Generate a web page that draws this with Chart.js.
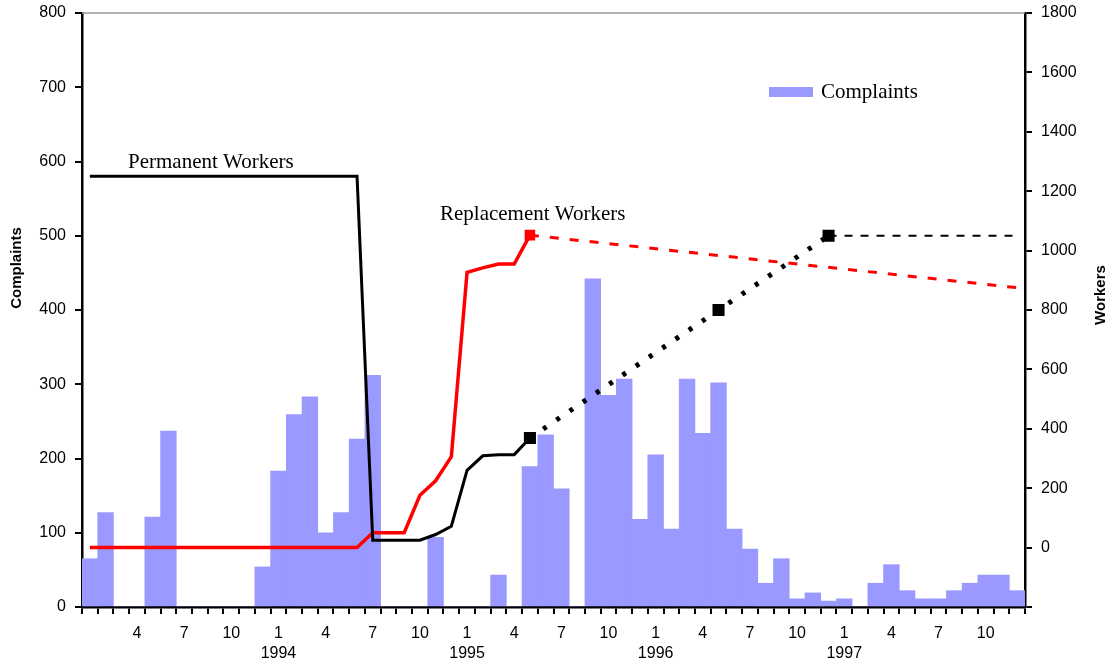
<!DOCTYPE html>
<html>
<head>
<meta charset="utf-8">
<script src="https://cdn.jsdelivr.net/npm/chart.js@4/dist/chart.umd.min.js"></script>
<style>
  html, body { margin: 0; padding: 0; background: #fff; }
  #wrap { width: 1111px; height: 666px; }
</style>
</head>
<body>
<div id="wrap"><canvas id="chart"></canvas></div>
<script>
// months Jan 1993 .. Dec 1997, only some get a label
const monthLabels = [
    '', '', '', '4', '', '', '7', '', '', '10', '', '',
    ['1', '1994'], '', '', '4', '', '', '7', '', '', '10', '', '',
    ['1', '1995'], '', '', '4', '', '', '7', '', '', '10', '', '',
    ['1', '1996'], '', '', '4', '', '', '7', '', '', '10', '', '',
    ['1', '1997'], '', '', '4', '', '', '7', '', '', '10', '', ''
];

const complaints = [
    65, 127, 0, 0, 121, 237, 0, 0, 0, 0, 0, 54,
    183, 259, 283, 100, 127, 226, 312, 0, 0, 0, 94, 0,
    0, 0, 43, 0, 189, 232, 159, 0, 442, 285, 307, 118,
    205, 105, 307, 234, 302, 105, 78, 32, 65, 11, 19, 8,
    11, 0, 32, 57, 22, 11, 11, 22, 32, 43, 43, 22
];

const N = null;
const permanentWorkers = [
    1250, 1250, 1250, 1250, 1250, 1250, 1250, 1250, 1250, 1250, 1250, 1250,
    1250, 1250, 1250, 1250, 1250, 1250, 25, 25, 25, 25, 44, 72,
    260, 309, 313, 313, 369, N, N, N, N, N, N, N,
    N, N, N, N, N, N, N, N, N, N, N, N,
    N, N, N, N, N, N, N, N, N, N, N, N
];
const permanentProjected = [
    N, N, N, N, N, N, N, N, N, N, N, N,
    N, N, N, N, N, N, N, N, N, N, N, N,
    N, N, N, N, 369, N, N, N, N, N, N, N,
    N, N, N, N, 800, N, N, N, N, N, N, 1050,
    N, N, N, N, N, N, N, N, N, N, N, N
];
const permanentFlat = [
    N, N, N, N, N, N, N, N, N, N, N, N,
    N, N, N, N, N, N, N, N, N, N, N, N,
    N, N, N, N, N, N, N, N, N, N, N, N,
    N, N, N, N, N, N, N, N, N, N, N, 1050,
    N, N, N, N, N, N, N, N, N, N, N, 1050
];
const replacementWorkers = [
    0, 0, 0, 0, 0, 0, 0, 0, 0, 0, 0, 0,
    0, 0, 0, 0, 0, 0, 50, 50, 50, 176, 225, 306,
    927, 942, 955, 955, 1052, N, N, N, N, N, N, N,
    N, N, N, N, N, N, N, N, N, N, N, N,
    N, N, N, N, N, N, N, N, N, N, N, N
];
const replacementProjected = [
    N, N, N, N, N, N, N, N, N, N, N, N,
    N, N, N, N, N, N, N, N, N, N, N, N,
    N, N, N, N, 1052, N, N, N, N, N, N, N,
    N, N, N, N, N, N, N, N, N, N, N, N,
    N, N, N, N, N, N, N, N, N, N, N, 875
];

const leftTicks = { min: 0, max: 800, step: 100 };
const rightTicks = { min: -200, max: 1800, step: 200 };

// square marker only where a value is a marked point
const markAt = (arr, idx) => arr.map((v, i) => idx.includes(i) ? 5 : 0);

const tickFont = { family: 'Liberation Sans, Arial, sans-serif', size: 16 };

const overlay = {
    id: 'overlay',
    afterDraw(chart) {
        const ctx = chart.ctx;
        const a = chart.chartArea;
        ctx.save();

        // light frame line along the top
        ctx.strokeStyle = '#999';
        ctx.lineWidth = 1.5;
        ctx.beginPath();
        ctx.moveTo(a.left, a.top);
        ctx.lineTo(a.right, a.top);
        ctx.stroke();

        // axis titles, both reading bottom to top
        ctx.fillStyle = '#000';
        ctx.font = 'bold 15px Liberation Sans, Arial, sans-serif';
        ctx.textAlign = 'center';
        ctx.textBaseline = 'middle';
        ctx.save();
        ctx.translate(17, 268);
        ctx.rotate(-Math.PI / 2);
        ctx.fillText('Complaints', 0, 0);
        ctx.restore();
        ctx.save();
        ctx.translate(1101, 295);
        ctx.rotate(-Math.PI / 2);
        ctx.fillText('Workers', 0, 0);
        ctx.restore();

        // series notes
        ctx.font = '21px Liberation Serif, Times New Roman, serif';
        ctx.textAlign = 'left';
        ctx.fillText('Permanent Workers', 128, 162);
        ctx.fillText('Replacement Workers', 440, 214);

        // legend
        ctx.fillStyle = '#9999FF';
        ctx.fillRect(769, 87, 44, 10);
        ctx.fillStyle = '#000';
        ctx.fillText('Complaints', 821, 92);

        ctx.restore();
    }
};

new Chart(document.getElementById('chart'), {
    data: {
        labels: monthLabels,
        datasets: [
            {
                type: 'bar',
                label: 'Complaints',
                data: complaints,
                yAxisID: 'y',
                backgroundColor: '#9999FF',
                borderWidth: 0,
                barPercentage: 1,
                categoryPercentage: 1,
                order: 10
            },
            {
                type: 'line',
                label: 'Replacement Workers',
                data: replacementWorkers,
                yAxisID: 'y2',
                borderColor: '#FF0000',
                backgroundColor: '#FF0000',
                borderWidth: 3.5,
                tension: 0,
                pointStyle: 'rect',
                pointRadius: markAt(replacementWorkers, [28]),
                order: 1
            },
            {
                type: 'line',
                label: 'Replacement projected',
                data: replacementProjected,
                yAxisID: 'y2',
                borderColor: '#FF0000',
                borderWidth: 3,
                borderDash: [9, 11],
                spanGaps: true,
                pointRadius: 0,
                order: 1
            },
            {
                type: 'line',
                label: 'Permanent Workers',
                data: permanentWorkers,
                yAxisID: 'y2',
                borderColor: '#000',
                backgroundColor: '#000',
                borderWidth: 3,
                tension: 0,
                pointStyle: 'rect',
                pointRadius: markAt(permanentWorkers, [28]),
                order: 0
            },
            {
                type: 'line',
                label: 'Permanent projected',
                data: permanentProjected,
                yAxisID: 'y2',
                borderColor: '#000',
                backgroundColor: '#000',
                borderWidth: 5,
                borderDash: [4, 12],
                spanGaps: true,
                pointStyle: 'rect',
                pointRadius: markAt(permanentProjected, [28, 40, 47]),
                order: 0
            },
            {
                type: 'line',
                label: 'Permanent flat',
                data: permanentFlat,
                yAxisID: 'y2',
                borderColor: '#000',
                borderWidth: 2,
                borderDash: [8, 8],
                spanGaps: true,
                pointRadius: 0,
                order: 0
            }
        ]
    },
    options: {
        responsive: true,
        maintainAspectRatio: false,
        animation: false,
        layout: { padding: { top: 13, left: 0, right: 0, bottom: 0 } },
        plugins: {
            legend: { display: false },
            tooltip: { enabled: false }
        },
        scales: {
            x: {
                offset: true,
                grid: {
                    offset: true,
                    drawOnChartArea: false,
                    tickLength: 7,
                    color: '#000',
                    lineWidth: 2
                },
                border: { color: '#000', width: 2.5 },
                ticks: {
                    autoSkip: false,
                    maxRotation: 0,
                    color: '#000',
                    font: { ...tickFont, lineHeight: 1.25 },
                    padding: 10
                },
                afterFit: (scale) => { scale.height = 59; }
            },
            y: {
                position: 'left',
                min: leftTicks.min,
                max: leftTicks.max,
                grid: {
                    drawOnChartArea: false,
                    tickLength: 7,
                    color: '#000',
                    lineWidth: 2
                },
                border: { color: '#000', width: 2.5 },
                ticks: {
                    stepSize: leftTicks.step,
                    color: '#000',
                    font: tickFont,
                    padding: 9
                },
                afterFit: (scale) => {
                    scale.width = 82;
                    scale.paddingTop = 0;
                    scale.paddingBottom = 0;
                }
            },
            y2: {
                position: 'right',
                min: rightTicks.min,
                max: rightTicks.max,
                grid: {
                    drawOnChartArea: false,
                    tickLength: 7,
                    color: '#000',
                    lineWidth: 2
                },
                border: { color: '#000', width: 2.5 },
                ticks: {
                    stepSize: rightTicks.step,
                    color: '#000',
                    font: tickFont,
                    padding: 9,
                    callback: (v) => v < 0 ? '' : v
                },
                afterFit: (scale) => {
                    scale.width = 86;
                    scale.paddingTop = 0;
                    scale.paddingBottom = 0;
                }
            }
        }
    },
    plugins: [overlay]
});
</script>
</body>
</html>
